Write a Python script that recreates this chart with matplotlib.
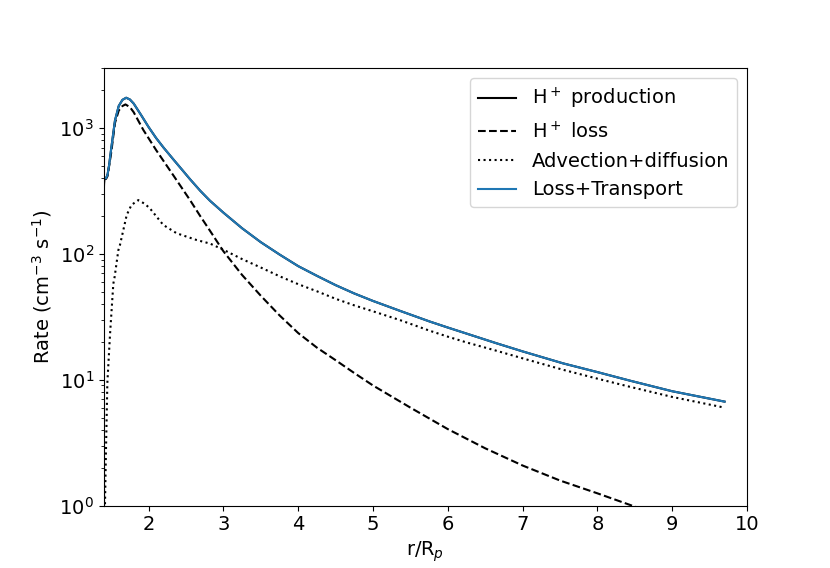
import matplotlib
matplotlib.use("Agg")
import matplotlib.pyplot as plt

# r/Rp grid and read-off rates (cm^-3 s^-1)
x_prod = [1.400, 1.404, 1.410, 1.430, 1.450, 1.470, 1.500, 1.550, 1.600, 1.650, 1.700, 1.750,
          1.800, 1.900, 2.000, 2.100, 2.200, 2.330, 2.450, 2.550, 2.690, 2.820, 3.000, 3.250,
          3.500, 3.750, 4.000, 4.250, 4.500, 4.750, 5.000, 5.360, 5.760, 6.000, 6.650, 7.000,
          7.540, 8.000, 8.430, 9.000, 9.700]
production = [300, 360, 398, 400, 425, 500, 690, 1150, 1500, 1680, 1745, 1690,
              1570, 1270, 1020, 835, 700, 565, 465, 395, 318, 265, 213, 160,
              124, 99, 80, 67, 56.5, 48.5, 42.3, 35.3, 29, 26, 19.5, 16.8,
              13.5, 11.5, 9.85, 8.1, 6.7]
x_tot = x_prod[1:]
loss_transport = [395, 400, 400, 425, 500, 690, 1150, 1500, 1680, 1745, 1690,
                  1570, 1270, 1020, 835, 700, 565, 465, 395, 318, 265, 213, 160,
                  124, 99, 80, 67, 56.5, 48.5, 42.3, 35.3, 29, 26, 19.5, 16.8,
                  13.5, 11.5, 9.85, 8.1, 6.7]

x_loss = [1.400, 1.410, 1.430, 1.450, 1.500, 1.550, 1.600, 1.650, 1.690, 1.750, 1.800, 1.930,
          2.100, 2.330, 2.550, 2.690, 2.820, 3.000, 3.250, 3.500, 3.750, 4.000, 4.250, 4.500,
          4.750, 5.000, 5.500, 6.000, 6.500, 7.000, 7.500, 8.000, 8.500, 9.000, 9.700]
loss = [390, 395, 395, 415, 640, 1100, 1380, 1500, 1545, 1470, 1340, 966,
        670, 422, 270, 200, 153, 105, 68, 46.5, 32.5, 23.5, 18.0, 14.3,
        11.3, 9.0, 6.0, 4.05, 2.85, 2.08, 1.58, 1.25, 0.98, 0.78, 0.58]

x_adv = [1.400, 1.4025, 1.405, 1.412, 1.417, 1.430, 1.448, 1.484, 1.528, 1.546, 1.595, 1.617,
         1.707, 1.770, 1.862, 1.950, 2.018, 2.196, 2.375, 2.643, 2.820, 3.000, 3.250, 3.500,
         3.750, 4.000, 4.250, 4.500, 4.750, 5.000, 5.360, 5.760, 6.000, 6.250, 6.650, 7.000,
         7.540, 8.000, 8.430, 9.000, 9.700]
advection = [85, 5, 0.5, 0.5, 1.05, 2.8, 9.4, 23, 58, 66, 107, 118,
             204, 245, 268, 250, 230, 170, 146, 129, 121, 108, 91, 78,
             66.5, 57.5, 50.5, 44, 39, 35, 29.8, 24.5, 22, 19.8, 17, 14.8,
             12, 10.2, 8.8, 7.3, 6.0]

fig = plt.figure(figsize=(8.3, 5.68), dpi=100)
ax = fig.add_subplot(111)
ax.plot(x_prod, production, color="black", ls="-", lw=1.5, label="H$^+$ production")
ax.plot(x_loss, loss, color="black", ls="--", lw=1.5, label="H$^+$ loss")
ax.plot(x_adv, advection, color="black", ls=":", lw=1.5, label="Advection+diffusion")
ax.plot(x_tot, loss_transport, color="tab:blue", ls="-", lw=1.5, label="Loss+Transport")
ax.set_yscale("log")
ax.set_xlim(1.4, 10)
ax.set_ylim(1, 3000)
ax.set_xlabel("r/R$_p$", fontsize=14)
ax.set_ylabel("Rate (cm$^{-3}$ s$^{-1}$)", fontsize=14)
ax.tick_params(labelsize=14)
ax.legend(loc="upper right", fontsize=14)
fig.savefig("out.png", dpi=100)
